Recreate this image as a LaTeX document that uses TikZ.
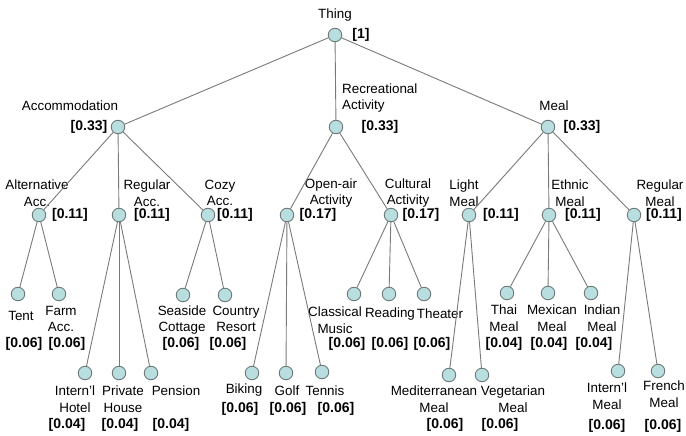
\documentclass[tikz,border=0pt]{standalone}
\usepackage{fontspec}
\setmainfont{Liberation Sans}
\definecolor{dotfill}{HTML}{B9DEDF}
\definecolor{dotline}{HTML}{6E7A7A}
\definecolor{edgec}{HTML}{7A7A7A}
\tikzset{
  dot/.style={circle,draw=dotline,fill=dotfill,line width=0.9pt,minimum size=13.5pt,inner sep=0pt},
  lbl/.style={font=\fontsize{13.4}{16.5}\selectfont,align=center,inner sep=0pt},
  wt/.style={font=\bfseries\fontsize{14}{16}\selectfont,inner sep=0pt},
  conn/.style={draw=edgec,line width=0.9pt}
}
\begin{document}
\begin{tikzpicture}[x=1pt,y=-1pt]
\useasboundingbox[fill=white] (0,0) rectangle (686,436);
% level 0
\node[dot] (thing) at (335,35) {};
\node[lbl] (thingL) at (335,15) {Thing};
\node[wt] (thingW) at (361,35) {[1]};
% level 1
\node[dot] (acc) at (118,127) {};
\node[lbl] (accL) at (70,106) {Accommodation};
\node[wt] (accW) at (89,127) {[0.33]};
\node[dot] (rec) at (336,127) {};
\node[lbl,anchor=west,align=left] (recL) at (342,98) {Recreational\\Activity};
\node[wt] (recW) at (380,127) {[0.33]};
\node[dot] (meal) at (548,127) {};
\node[lbl] (mealL) at (554,106) {Meal};
\node[wt] (mealW) at (582,127) {[0.33]};
% level 2
\node[dot] (alt) at (39,215) {};
\node[lbl] (altL) at (37,193) {Alternative\\Acc.};
\node[wt] (altW) at (70,215) {[0.11]};
\node[dot] (reg) at (119,215) {};
\node[lbl] (regL) at (147,193) {Regular\\Acc.};
\node[wt] (regW) at (152,215) {[0.11]};
\node[dot] (cozy) at (208,215) {};
\node[lbl] (cozyL) at (220,193) {Cozy\\Acc.};
\node[wt] (cozyW) at (235,215) {[0.11]};
\node[dot] (open) at (287,215) {};
\node[lbl] (openL) at (331,193) {Open-air\\Activity};
\node[wt] (openW) at (318,215) {[0.17]};
\node[dot] (cult) at (391,215) {};
\node[lbl] (cultL) at (408,193) {Cultural\\Activity};
\node[wt] (cultW) at (421,215) {[0.17]};
\node[dot] (light) at (469,215) {};
\node[lbl] (lightL) at (464,193) {Light\\Meal};
\node[wt] (lightW) at (501,215) {[0.11]};
\node[dot] (eth) at (549,215) {};
\node[lbl] (ethL) at (570,193) {Ethnic\\Meal};
\node[wt] (ethW) at (583,215) {[0.11]};
\node[dot] (rmeal) at (634,215) {};
\node[lbl] (rmealL) at (660,193) {Regular\\Meal};
\node[wt] (rmealW) at (664,215) {[0.11]};
% level 3
\node[dot] (tent) at (18,294) {};
\node[lbl] (tentL) at (21,316) {Tent};
\node[wt] (tentW) at (24,344) {[0.06]};
\node[dot] (farm) at (59,294) {};
\node[lbl] (farmL) at (61,319) {Farm\\Acc.};
\node[wt] (farmW) at (67,344) {[0.06]};
\node[dot] (sea) at (183,295) {};
\node[lbl] (seaL) at (182,320) {Seaside\\Cottage};
\node[wt] (seaW) at (181,344) {[0.06]};
\node[dot] (country) at (225,295) {};
\node[lbl] (countryL) at (236,319) {Country\\Resort};
\node[wt] (countryW) at (228,344) {[0.06]};
\node[dot] (class) at (354,294) {};
\node[lbl] (classL) at (335,320) {Classical\\Music};
\node[wt] (classW) at (347,344) {[0.06]};
\node[dot] (read) at (389,294) {};
\node[lbl] (readL) at (390,314) {Reading};
\node[wt] (readW) at (390,344) {[0.06]};
\node[dot] (theat) at (424,294) {};
\node[lbl] (theatL) at (440,314) {Theater};
\node[wt] (theatW) at (432,344) {[0.06]};
\node[dot] (thai) at (507,293) {};
\node[lbl] (thaiL) at (504,318) {Thai\\Meal};
\node[wt] (thaiW) at (504,344) {[0.04]};
\node[dot] (mex) at (548,293) {};
\node[lbl] (mexL) at (552,318) {Mexican\\Meal};
\node[wt] (mexW) at (549,344) {[0.04]};
\node[dot] (ind) at (591,293) {};
\node[lbl] (indL) at (602,318) {Indian\\Meal};
\node[wt] (indW) at (594,344) {[0.04]};
% level 4
\node[dot] (hotel) at (85,373) {};
\node[lbl] (hotelL) at (75,399) {Intern'l\\Hotel};
\node[wt] (hotelW) at (67,425) {[0.04]};
\node[dot] (priv) at (119,373) {};
\node[lbl] (privL) at (123,399) {Private\\House};
\node[wt] (privW) at (120,425) {[0.04]};
\node[dot] (pens) at (151,373) {};
\node[lbl] (pensL) at (176,391) {Pension};
\node[wt] (pensW) at (171,425) {[0.04]};
\node[dot] (bike) at (252,373) {};
\node[lbl] (bikeL) at (244,390) {Biking};
\node[wt] (bikeW) at (240,409) {[0.06]};
\node[dot] (golf) at (286,373) {};
\node[lbl] (golfL) at (287,391) {Golf};
\node[wt] (golfW) at (288,409) {[0.06]};
\node[dot] (tennis) at (322,372) {};
\node[lbl] (tennisL) at (325,391) {Tennis};
\node[wt] (tennisW) at (336,409) {[0.06]};
\node[dot] (medi) at (449,375) {};
\node[lbl] (mediL) at (434,399) {Mediterranean\\Meal};
\node[wt] (mediW) at (445,425) {[0.06]};
\node[dot] (veg) at (482,375) {};
\node[lbl] (vegL) at (513,399) {Vegetarian\\Meal};
\node[wt] (vegW) at (500,425) {[0.06]};
\node[dot] (imeal) at (618,371) {};
\node[lbl] (imealL) at (607,396) {Intern'l\\Meal};
\node[wt] (imealW) at (607,426) {[0.06]};
\node[dot] (french) at (658,371) {};
\node[lbl] (frenchL) at (664,394) {French\\Meal};
\node[wt] (frenchW) at (663,426) {[0.06]};
% connectors
\foreach \a/\b in {thing/acc,thing/rec,thing/meal,
  acc/alt,acc/reg,acc/cozy,alt/tent,alt/farm,reg/hotel,reg/priv,reg/pens,cozy/sea,cozy/country,
  rec/open,rec/cult,open/bike,open/golf,open/tennis,cult/class,cult/read,cult/theat,
  meal/light,meal/eth,meal/rmeal,light/medi,light/veg,eth/thai,eth/mex,eth/ind,rmeal/imeal,rmeal/french}
  \draw[conn] (\a) -- (\b);
\end{tikzpicture}
\end{document}
